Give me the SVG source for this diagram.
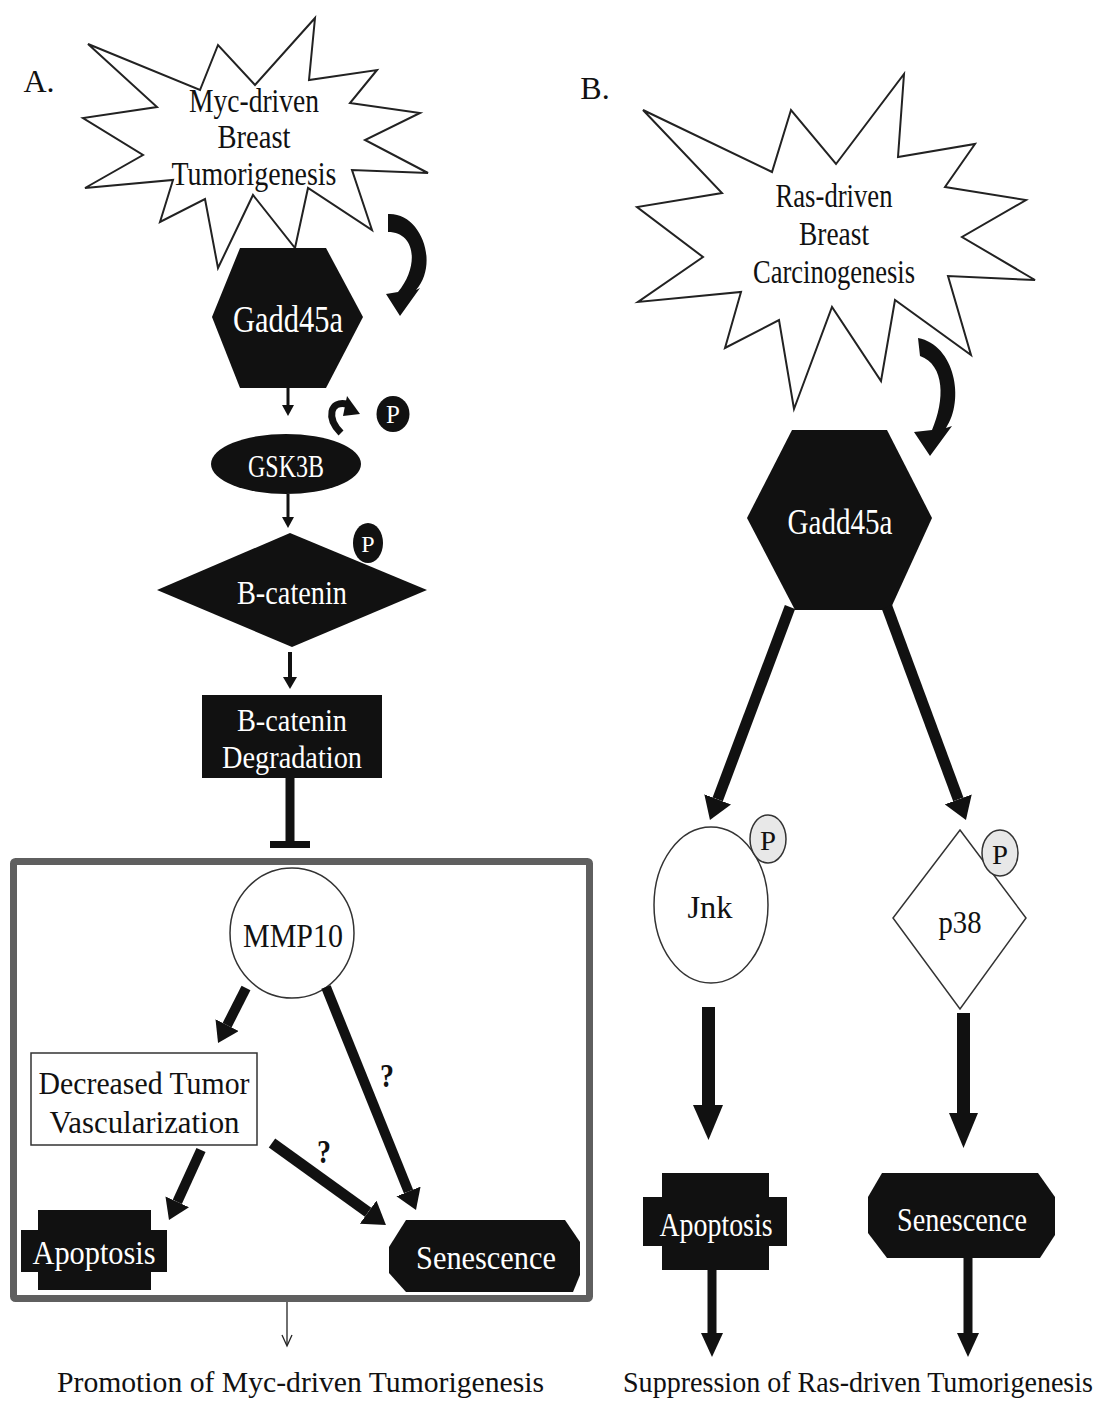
<svg xmlns="http://www.w3.org/2000/svg" width="1108" height="1404" viewBox="0 0 1108 1404">
<style>
text{font-family:"Liberation Serif","DejaVu Serif",serif;text-anchor:middle;}
.k{fill:#111;}
.w{fill:#fff;}
.star{fill:#fff;stroke:#222;stroke-width:2;stroke-linejoin:miter;}
.dark{fill:#111;}
.outline{fill:#fff;stroke:#333;stroke-width:1.5;}
.lp{fill:#e8e8e8;stroke:#333;stroke-width:1.5;}
.thick{stroke:#111;fill:none;stroke-linecap:butt;}
</style>
<defs>
<marker id="ah" viewBox="0 0 20 26" refX="0" refY="13" markerWidth="2" markerHeight="2.6" orient="auto" markerUnits="strokeWidth">
<path d="M0,0 L20,13 L0,26 Z" fill="#111"/>
</marker>
</defs>
<rect width="1108" height="1404" fill="#fff"/>

<text x="39" y="92" font-size="32" class="k">A.</text>
<text x="595" y="99" font-size="32" class="k">B.</text>

<g id="star-myc">
<polygon class="star" points="88,44 200,90 218,45 255,85 315,18 309,80 377,70 350,103 420,113 365,140 428,173 352,170 372,230 308,188 295,248 253,195 218,268 205,199 160,222 173,180 85,188 143,155 83,118 157,107"/>
<text x="254" y="112" font-size="34" textLength="130" lengthAdjust="spacingAndGlyphs" class="k">Myc-driven</text>
<text x="254" y="148" font-size="34" textLength="73" lengthAdjust="spacingAndGlyphs" class="k">Breast</text>
<text x="254" y="185" font-size="34" textLength="165" lengthAdjust="spacingAndGlyphs" class="k">Tumorigenesis</text>
</g>

<g id="gadd45a-a">
<polygon class="dark" points="240,248 326,248 363,317 326,388 240,388 212,317"/>
<text x="288" y="332" font-size="38" textLength="110" lengthAdjust="spacingAndGlyphs" class="w">Gadd45a</text>
</g>

<g id="gsk3b">
<ellipse class="dark" cx="286" cy="464" rx="75" ry="30"/>
<text x="286" y="477" font-size="31" textLength="76" lengthAdjust="spacingAndGlyphs" class="w">GSK3B</text>
</g>

<g id="p-gsk">
<ellipse class="dark" cx="393" cy="414" rx="16.5" ry="18"/>
<text x="393" y="423" font-size="25" class="w">P</text>
</g>

<g id="bcatenin">
<polygon class="dark" points="290,533 427,590 292,647 157,590"/>
<text x="292" y="604" font-size="34" textLength="110" lengthAdjust="spacingAndGlyphs" class="w">B-catenin</text>
</g>

<g id="p-bcat">
<ellipse class="dark" cx="368" cy="543" rx="15" ry="20"/>
<text x="368" y="552" font-size="24" class="w">P</text>
</g>

<g id="degradation">
<rect class="dark" x="202" y="695" width="180" height="83"/>
<text x="292" y="731" font-size="32" textLength="110" lengthAdjust="spacingAndGlyphs" class="w">B-catenin</text>
<text x="292" y="768" font-size="32" textLength="140" lengthAdjust="spacingAndGlyphs" class="w">Degradation</text>
</g>

<g id="box">
<rect x="13.5" y="861.5" width="576" height="437" fill="none" stroke="#5f5f5f" stroke-width="7" rx="2"/>
</g>

<g id="mmp10">
<ellipse class="outline" cx="292" cy="933" rx="62" ry="65"/>
<text x="293" y="947" font-size="34" textLength="100" lengthAdjust="spacingAndGlyphs" class="k">MMP10</text>
</g>

<g id="vascularization">
<rect class="outline" x="31" y="1053" width="226" height="92"/>
<text x="144" y="1094" font-size="32" textLength="211" lengthAdjust="spacingAndGlyphs" class="k">Decreased Tumor</text>
<text x="144.5" y="1133" font-size="32" textLength="190" lengthAdjust="spacingAndGlyphs" class="k">Vascularization</text>
</g>

<g id="apoptosis-a">
<path class="dark" d="M38,1210 H151 V1230 H167 V1272 H151 V1290 H38 V1272 H21 V1230 H38 Z"/>
<text x="94" y="1264" font-size="33" textLength="123" lengthAdjust="spacingAndGlyphs" class="w">Apoptosis</text>
</g>

<g id="senescence-a">
<path class="dark" d="M406,1220 H565 L580,1242 V1275 L573,1292 H406 L389,1273 V1247 Z"/>
<text x="486" y="1269" font-size="34" textLength="140" lengthAdjust="spacingAndGlyphs" class="w">Senescence</text>
</g>

<text x="300.5" y="1392" font-size="30" textLength="487" lengthAdjust="spacingAndGlyphs" class="k">Promotion of Myc-driven Tumorigenesis</text>

<g id="star-ras">
<polygon class="star" points="643,110 772,172 791,110 836,164 904,74 898,157 975,144 945,187 1026,200 962,237 1035,280 948,276 971,355 895,300 881,381 832,307 794,409 779,320 725,348 741,292 638,302 703,257 637,207 722,193"/>
<text x="834" y="207" font-size="33" textLength="117" lengthAdjust="spacingAndGlyphs" class="k">Ras-driven</text>
<text x="834" y="245" font-size="33" textLength="70" lengthAdjust="spacingAndGlyphs" class="k">Breast</text>
<text x="834" y="283" font-size="33" textLength="162" lengthAdjust="spacingAndGlyphs" class="k">Carcinogenesis</text>
</g>

<g id="gadd45a-b">
<polygon class="dark" points="792,430 887,430 932,518 890,610 795,610 747,518"/>
<text x="840" y="534" font-size="36" textLength="105" lengthAdjust="spacingAndGlyphs" class="w">Gadd45a</text>
</g>

<g id="jnk">
<ellipse class="outline" cx="711" cy="905" rx="57" ry="78"/>
<text x="710" y="918" font-size="32" textLength="45" lengthAdjust="spacingAndGlyphs" class="k">Jnk</text>
</g>
<g id="p-jnk">
<ellipse class="lp" cx="768" cy="839" rx="18" ry="24"/>
<text x="768" y="850" font-size="28" textLength="16" lengthAdjust="spacingAndGlyphs" class="k">P</text>
</g>

<g id="p38">
<polygon class="outline" points="960,830 1026,918 960,1009 893,918"/>
<text x="960" y="933" font-size="32" textLength="43" lengthAdjust="spacingAndGlyphs" class="k">p38</text>
</g>
<g id="p-p38">
<ellipse class="lp" cx="1000" cy="853" rx="18" ry="23"/>
<text x="1000" y="864" font-size="28" textLength="16" lengthAdjust="spacingAndGlyphs" class="k">P</text>
</g>

<g id="apoptosis-b">
<path class="dark" d="M662,1173 H769 V1197 H787 V1246 H769 V1270 H662 V1246 H643 V1197 H662 Z"/>
<text x="716" y="1236" font-size="33" textLength="113" lengthAdjust="spacingAndGlyphs" class="w">Apoptosis</text>
</g>

<g id="senescence-b">
<path class="dark" d="M882,1173 H1038 L1055,1197 V1235 L1040,1258 H887 L868,1233 V1197 Z"/>
<text x="962" y="1231" font-size="34" textLength="130" lengthAdjust="spacingAndGlyphs" class="w">Senescence</text>
</g>

<text x="858" y="1392" font-size="29" textLength="470" lengthAdjust="spacingAndGlyphs" class="k">Suppression of Ras-driven Tumorigenesis</text>

<g id="connectors">
<path class="dark" d="M388,214 C420,212 440,262 416,290 L420,288 L400,316 L386,294 L398,292 C420,265 415,232 388,232 Z"/>
<path class="dark" d="M918,338 C955,345 965,400 946,428 L952,426 L930,456 L914,432 L932,430 C945,400 945,365 920,356 Z"/>
<path d="M341,433 C326,418 330,400 347,404" fill="none" stroke="#111" stroke-width="7"/>
<polygon class="dark" points="360,414 347,396 343,416"/>
<line x1="288" y1="388" x2="288" y2="406" stroke="#111" stroke-width="3"/>
<polygon class="dark" points="282,405 294,405 288,416"/>
<line x1="288" y1="494" x2="288" y2="518" stroke="#111" stroke-width="3"/>
<polygon class="dark" points="282,517 294,517 288,528"/>
<line x1="290" y1="652" x2="290" y2="678" stroke="#111" stroke-width="4"/>
<polygon class="dark" points="283,677 297,677 290,689"/>
<line x1="290" y1="778" x2="290" y2="845" stroke="#111" stroke-width="9"/>
<rect x="270" y="841" width="40" height="7" class="dark"/>
<line class="thick" x1="246" y1="988" x2="227.1" y2="1025.2" stroke-width="10" marker-end="url(#ah)"/>
<line class="thick" x1="201" y1="1150" x2="177.3" y2="1201.8" stroke-width="10" marker-end="url(#ah)"/>
<line class="thick" x1="272" y1="1143" x2="368.1" y2="1212.2" stroke-width="11" marker-end="url(#ah)"/>
<line class="thick" x1="326" y1="987" x2="408.5" y2="1191.5" stroke-width="10" marker-end="url(#ah)"/>
<text x="387" y="1087" font-size="34" font-weight="bold" textLength="14" lengthAdjust="spacingAndGlyphs" class="k">?</text>
<text x="324" y="1163" font-size="34" font-weight="bold" textLength="14" lengthAdjust="spacingAndGlyphs" class="k">?</text>
<line x1="287" y1="1302" x2="287" y2="1345" stroke="#222" stroke-width="1.3"/>
<polyline points="282,1335 287,1346 292,1335" fill="none" stroke="#222" stroke-width="1.3"/>
<line class="thick" x1="790" y1="607" x2="717.7" y2="799.4" stroke-width="11" marker-end="url(#ah)"/>
<line class="thick" x1="887" y1="607" x2="958.3" y2="799.4" stroke-width="11" marker-end="url(#ah)"/>
<rect x="702" y="1007" width="13" height="99" class="dark"/>
<polygon class="dark" points="693,1105 723,1105 708.5,1140"/>
<rect x="957" y="1013" width="13" height="101" class="dark"/>
<polygon class="dark" points="949,1113 978,1113 963.5,1148"/>
<rect x="707.5" y="1270" width="9" height="64" class="dark"/>
<polygon class="dark" points="701,1333 723,1333 712,1357"/>
<rect x="963.5" y="1258" width="9" height="76" class="dark"/>
<polygon class="dark" points="957,1333 979,1333 968,1357"/>
</g>
</svg>
